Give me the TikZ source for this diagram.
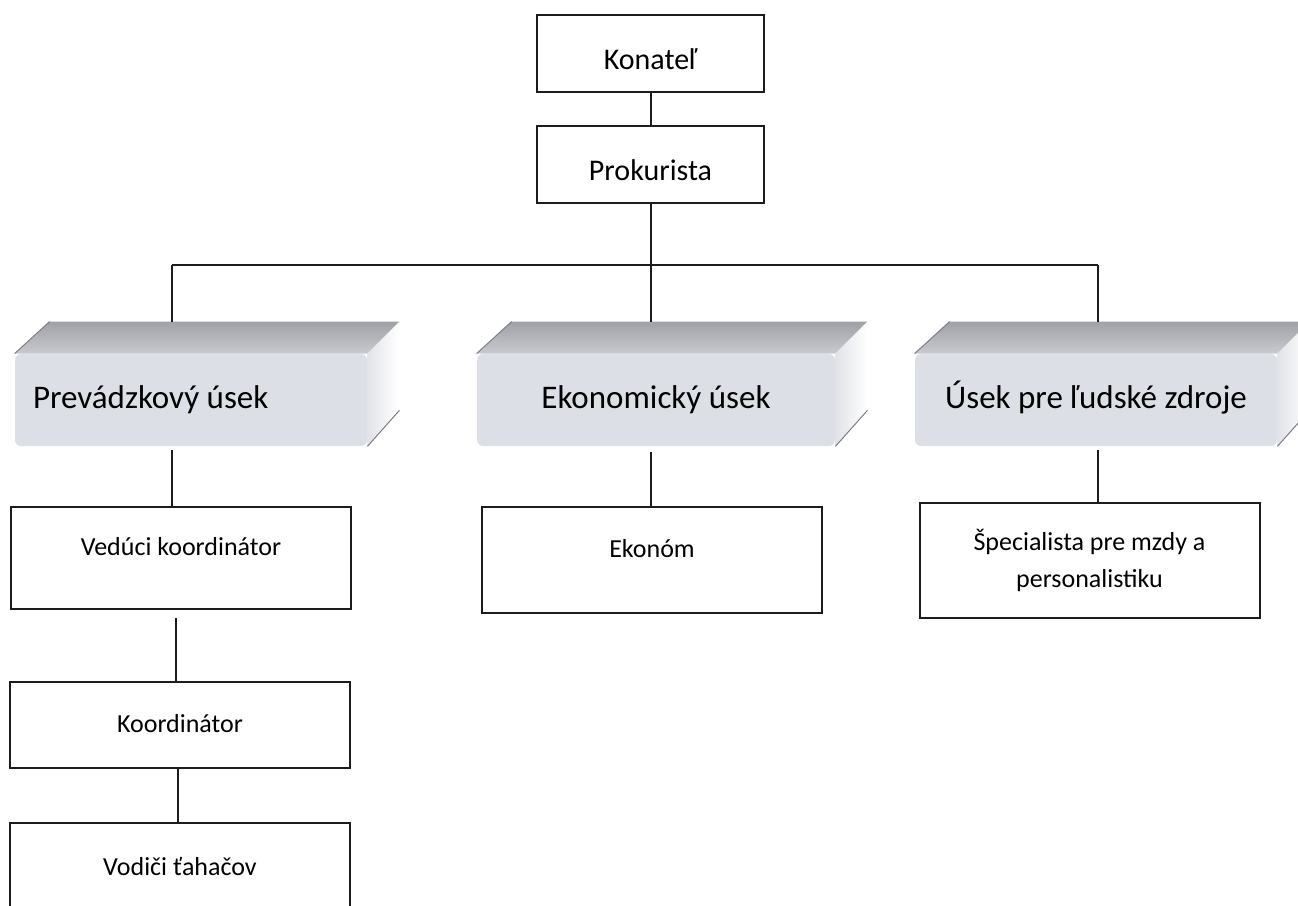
\documentclass[tikz,border=0pt]{standalone}
\usepackage{fontspec}
\setmainfont{Carlito}
\usepackage{tikz}
\usetikzlibrary{positioning}
\definecolor{Ciara}{HTML}{1C1C1C}
\definecolor{Predok}{HTML}{DDDFE6}
\definecolor{VrchTmavy}{HTML}{A0A1A7}
\definecolor{VrchSvetly}{HTML}{C8CACF}
\definecolor{Bok}{HTML}{E2E3E8}
\definecolor{Hrana}{HTML}{7E7F85}

\begin{document}
\begin{tikzpicture}[
  x=0.5pt, y=-0.5pt,
  box/.style={draw=Ciara,line width=1pt,fill=white,inner sep=0pt,
    align=center,font=\fontsize{13}{18.5}\selectfont,minimum width=170pt},
  head/.style={box,font=\fontsize{15}{18}\selectfont,
    minimum width=113.5pt,minimum height=38.5pt,text height=19.5pt,text depth=3.5pt},
  usek/.style={fill=Predok,rounded corners=3pt,inner xsep=9pt,inner ysep=0pt,
    font=\fontsize{16.5}{20}\selectfont,minimum height=46pt,text height=12pt,text depth=4pt},
  link/.style={draw=Ciara,line width=1pt},
  hrana/.style={draw=Hrana,line width=0.5pt}
]
  \path[use as bounding box] (0,0) rectangle (1298,906);
  \clip (0,0) rectangle (1298,906);

  % vedenie
  \node[head] (konatel) at (650.5,53.5) {Konateľ};
  \node[head] (prok) at (650.5,164) {Prokurista};

  % useky
  \node[usek,text width=158pt,align=flush left] (prev) at (191,400) {Prevádzkový úsek};
  \node[usek,minimum width=179pt] (ekon) at (656,400) {Ekonomický úsek};
  \node[usek,minimum width=181pt] (hr) at (1096,400) {Úsek pre ľudské zdroje};
  \foreach \n in {prev,ekon,hr}{
    \shade[top color=VrchTmavy,bottom color=VrchSvetly]
      (\n.north west) -- ([shift={(35,-32)}]\n.north west)
      -- ([shift={(32,-32)}]\n.north east) -- (\n.north east) -- cycle;
    \shade[left color=Bok,right color=white]
      (\n.north east) -- ([shift={(32,-32)}]\n.north east)
      -- ([shift={(32,-36)}]\n.south east) -- (\n.south east) -- cycle;
    \draw[hrana] (\n.north west) -- ([shift={(35,-32)}]\n.north west);
    \draw[hrana] (\n.south east) -- ([shift={(32,-36)}]\n.south east);
  }

  % pozicie
  \node[box,minimum height=51pt,text height=9.5pt,text depth=12.5pt] (veduci) at (181,558) {Vedúci koordinátor};
  \node[box,minimum height=43pt,text height=9.5pt,text depth=2.5pt] (koord) at (180,725) {Koordinátor};
  \node[box,minimum height=55pt,text height=9.5pt,text depth=12.5pt] (vodici) at (180,878) {Vodiči ťahačov};
  \node[box,minimum height=53pt,text height=9.5pt,text depth=12.5pt] (ekonom) at (652,560) {Ekonóm};
  \node[box,minimum height=57.5pt] (spec) at (1089.5,560.5) {Špecialista pre mzdy a\\personalistiku};

  % spojnice
  \coordinate (pruh-l) at (172,265);
  \coordinate (pruh-r) at (1098,265);
  \coordinate (prev-zad) at (172,322);
  \coordinate (ekon-zad) at (650.5,322);
  \coordinate (hr-zad) at (1098,322);
  \draw[link] (konatel) -- (prok);
  \draw[link] (prok) -- (ekon-zad);
  \draw[link] (pruh-l) -- (pruh-r);
  \draw[link] (pruh-l) -- (prev-zad);
  \draw[link] (pruh-r) -- (hr-zad);
  \draw[link,shorten <=2pt] (prev.south -| pruh-l) -- (veduci.north -| pruh-l);
  \draw[link,shorten <=4pt] ([xshift=-2.5pt]veduci.south) -- ([xshift=-2.5pt]veduci.south |- koord.north);
  \draw[link] ([xshift=-1pt]koord.south) -- ([xshift=-1pt]vodici.north);
  \draw[link,shorten <=3pt] (ekon.south -| prok) -- (ekonom.north -| prok);
  \draw[link,shorten <=2pt] (hr.south -| pruh-r) -- (spec.north -| pruh-r);
\end{tikzpicture}
\end{document}
